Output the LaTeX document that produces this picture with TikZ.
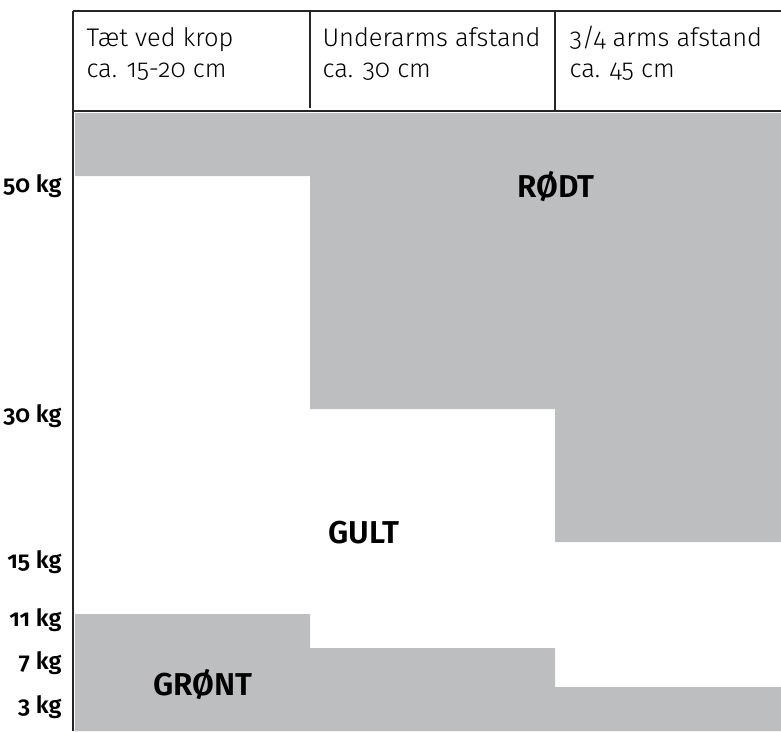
\documentclass[tikz,border=0pt]{standalone}
\usepackage{fontspec}
\setmainfont{Fira Sans}[Numbers=OldStyle,UprightFont=* Light,BoldFont=* SemiBold]
\usetikzlibrary{positioning}
\definecolor{zoneGray}{RGB}{189,190,192}
\tikzset{every picture/.style={semithick}}

\begin{document}
\begin{tikzpicture}[x=0.02cm,y=-0.02cm,
    rule/.style={line width=1.5pt, black!85},
    zone/.style={fill=zoneGray, draw=none},
    head/.style={anchor=base west, align=left, inner sep=0pt, font=\fontsize{14.5}{17.6}\selectfont},
    weight/.style={anchor=base east, inner sep=0pt, font=\bfseries\fontsize{13.5}{16}\selectfont},
    verdict/.style={anchor=base west, inner sep=0pt, font=\bfseries\fontsize{18}{21}\selectfont}]
    \useasboundingbox (0,0) rectangle (781,731);
    % zones
    \fill[zone] (75,113) -- (781,113) -- (781,542) -- (555,542) -- (555,409) -- (310,409) -- (310,176) -- (75,176) -- cycle;
    \fill[zone] (75,614) -- (310,614) -- (310,648) -- (555,648) -- (555,687) -- (781,687) -- (781,731) -- (75,731) -- cycle;
    % header rules
    \draw[rule] (73,11) -- (781,11);
    \draw[rule] (73,111) -- (781,111);
    \draw[rule] (73,11) -- (73,731);
    \draw[rule] (310,11) -- (310,108);
    \draw[rule] (555,11) -- (555,111);
    % header text
    \node[head] (near) at (86,77) {Tæt ved krop\\ca. 15-20 cm};
    \node[head] (under) at (322,77) {Underarms afstand\\ca. 30 cm};
    \node[head] (three) at (569,77) {3/4 arms afstand\\ca. 45 cm};
    % weights
    \node[weight] (w50) at (62,192) {50 kg};
    \node[weight] (w30) at (62,422) {30 kg};
    \node[weight] (w15) at (62,568) {15 kg};
    \node[weight] (w11) at (62,626) {11 kg};
    \node[weight] (w7) at (62,669) {7 kg};
    \node[weight] (w3) at (62,713) {3 kg};
    % verdicts
    \node[verdict] (red) at (517,197) {RØDT};
    \node[verdict] (yellow) at (328,543) {GULT};
    \node[verdict] (green) at (153,695) {GRØNT};
\end{tikzpicture}
\end{document}
